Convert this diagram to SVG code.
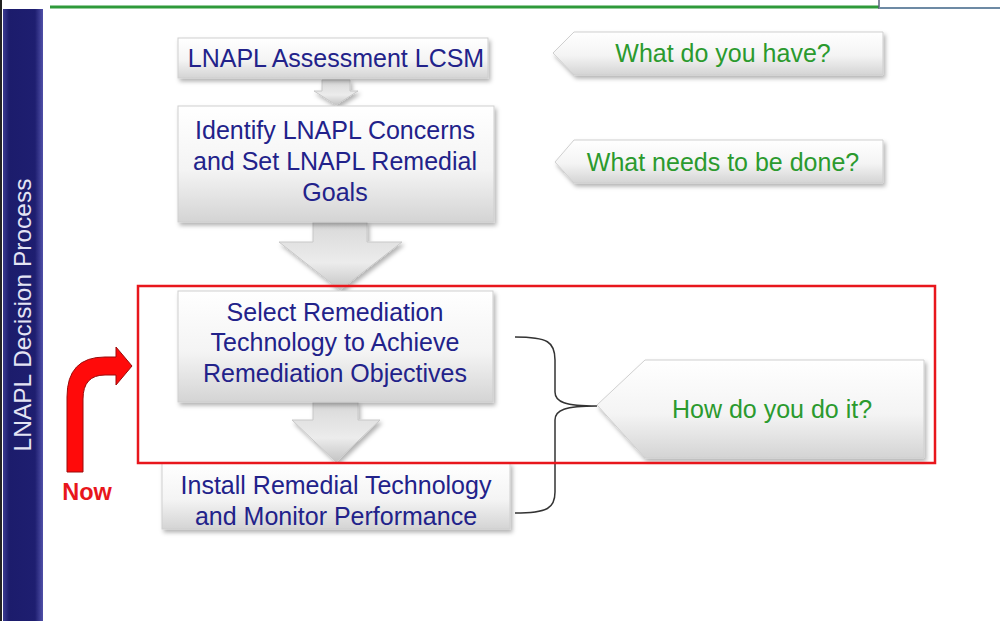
<svg xmlns="http://www.w3.org/2000/svg" width="1000" height="621" viewBox="0 0 1000 621">
<defs>
<linearGradient id="boxg" x1="0" y1="0" x2="0" y2="1">
<stop offset="0" stop-color="#ffffff"/><stop offset="0.55" stop-color="#f4f4f4"/><stop offset="1" stop-color="#d4d4d4"/>
</linearGradient>
<linearGradient id="arrg" x1="0" y1="0" x2="0" y2="1">
<stop offset="0" stop-color="#d8d8d8"/><stop offset="0.6" stop-color="#ececec"/><stop offset="1" stop-color="#c4c4c4"/>
</linearGradient>
<linearGradient id="barg" x1="0" y1="0" x2="1" y2="0">
<stop offset="0" stop-color="#3a3a90"/><stop offset="0.15" stop-color="#1c1c6c"/><stop offset="0.8" stop-color="#1e1e70"/><stop offset="1" stop-color="#5050a8"/>
</linearGradient>
<filter id="sh" x="-10%" y="-10%" width="130%" height="140%">
<feDropShadow dx="2" dy="3" stdDeviation="2" flood-color="#000" flood-opacity="0.3"/>
</filter>
</defs>
<style>
.box{fill:url(#boxg);stroke:#cfcfcf;stroke-width:1;filter:url(#sh)}
.arr{fill:url(#arrg);stroke:#c8c8c8;stroke-width:1;filter:url(#sh)}
.bt{font-family:"Liberation Sans",Arial,sans-serif;font-size:25px;fill:#22228a;text-anchor:middle}
.gt{font-family:"Liberation Sans",Arial,sans-serif;font-size:25px;fill:#2b9a2e;text-anchor:middle}
</style>
<rect width="1000" height="621" fill="#ffffff"/>
<g id="header">
<line x1="50" y1="7" x2="879" y2="7" stroke="#2e9a3a" stroke-width="3"/>
<line x1="879" y1="0" x2="879" y2="9" stroke="#56607a" stroke-width="1.5"/>
<line x1="880" y1="8" x2="1000" y2="8" stroke="#6d8aa4" stroke-width="2"/>
</g>
<g id="sidebar">
<rect x="0" y="0" width="2" height="621" fill="#222"/>
<rect x="3" y="9" width="40" height="612" fill="url(#barg)"/>
<text transform="translate(31,315) rotate(-90)" font-family="Liberation Sans,Arial,sans-serif" font-size="24.5" fill="#e4e4f4" text-anchor="middle">LNAPL Decision Process</text>
</g>
<g id="connectors">
<path class="arr" d="M322,80 L350,80 L350,91 L358,91 L336,105 L314,91 L322,91 Z"/>
<path class="arr" d="M313,222 L367,222 L367,242 L402,242 L340,290 L279,242 L313,242 Z"/>
<path class="arr" d="M313,402 L358,402 L358,420 L380,420 L336,462 L292,420 L313,420 Z"/>
<path d="M515,337 C548,337 555,342 555,360 L555,392 C555,402 565,406 597,406 C565,406 555,410 555,420 L555,492 C555,508 548,513 515,513" fill="none" stroke="#333" stroke-width="1.5"/>
</g>
<g id="box1">
<rect class="box" x="178" y="38" width="310" height="40"/>
<text class="bt" x="336" y="67">LNAPL Assessment LCSM</text>
</g>
<g id="box2">
<rect class="box" x="178" y="106" width="316" height="116"/>
<text class="bt" x="335" y="139">Identify LNAPL Concerns</text>
<text class="bt" x="335" y="170">and Set LNAPL Remedial</text>
<text class="bt" x="335" y="201">Goals</text>
</g>
<g id="box3">
<rect class="box" x="178" y="291" width="315" height="111"/>
<text class="bt" x="335" y="321">Select Remediation</text>
<text class="bt" x="335" y="351">Technology to Achieve</text>
<text class="bt" x="335" y="382">Remediation Objectives</text>
</g>
<g id="box4">
<rect class="box" x="162" y="463" width="348" height="66"/>
<text class="bt" x="336" y="494">Install Remedial Technology</text>
<text class="bt" x="336" y="525">and Monitor Performance</text>
</g>
<g id="callout1">
<path class="box" d="M553,53 L574,32 L883,32 L883,75 L574,75 Z"/>
<text class="gt" x="723" y="62">What do you have?</text>
</g>
<g id="callout2">
<path class="box" d="M555,162 L574,140 L883,140 L883,183 L574,183 Z"/>
<text class="gt" x="723" y="171">What needs to be done?</text>
</g>
<g id="callout3">
<path class="box" d="M597,405 L645,360 L924,360 L924,458 L645,458 Z"/>
<text class="gt" x="772" y="418">How do you do it?</text>
</g>
<g id="focus">
<rect x="138" y="286" width="797" height="177" fill="none" stroke="#e8161c" stroke-width="2.5"/>
</g>
<g id="now">
<path d="M67,472 L67,397 Q67,357 105,357 L116,357 L116,347 L132,366 L116,385 L116,375 L105,375 Q83,375 83,399 L83,472 Z" fill="#ff0a0a" stroke="#9a0a0a" stroke-width="1"/>
<text x="87" y="500" font-family="Liberation Sans,Arial,sans-serif" font-size="23.5" font-weight="bold" fill="#e8161c" text-anchor="middle">Now</text>
</g>
</svg>
